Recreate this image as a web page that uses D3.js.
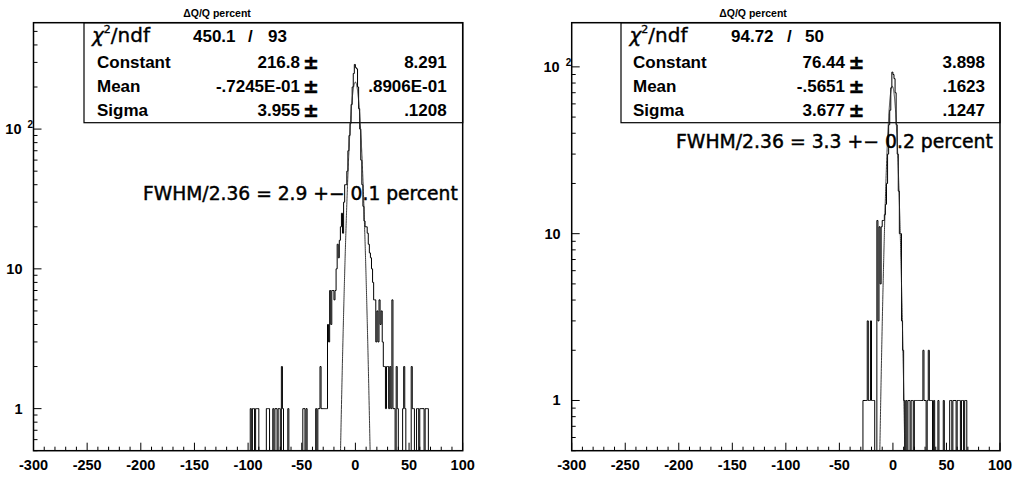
<!DOCTYPE html>
<html><head><meta charset="utf-8">
<script src="https://cdn.jsdelivr.net/npm/d3@7/dist/d3.min.js"></script>
<style>body{margin:0;background:#fff} svg{display:block}</style>
</head><body>
<svg id="c" width="1015" height="477"></svg>
<script>
// ---------- data ----------
const xTickValues = [-300,-250,-200,-150,-100,-50,0,50,100];
const yMajorValues = [1,10,100];
const yTickLabels = ["1","10","10"];
const titleText = "ΔQ/Q percent";
const statLabels = ["Constant","Mean","Sigma"];

// left histogram (bin lower edge, bin width 1) and counts
const leftBins = [-98,-96,-95,-93,-92,-91,-83,-82,-81,-77,-75,-74,-72,-71,-69,-68,-63,-49,-48,-46,-37,
  -35,-34,-33,-32,-31,-30,-29,-28,-27,-26,-25,-24,-23,-22,-21,-20,-19,-18,-17,-16,-15,-14,-13,-12,-11,-10,
  -9,-8,-7,-6,-5,-4,-3,-2,-1,0,1,2,3,4,5,6,7,8,9,10,11,12,13,14,15,16,17,18,19,20,21,22,23,24,25,26,27,28,
  29,30,31,32,33,34,35,36,38,39,44,45,46,52,53,54,57,58,60,61,62,63,65,66,67];
const leftCounts = [1,1,1,1,1,1,1,1,1,1,1,1,1,1,2,1,1,1,1,1,1,
  1,1,2,1,1,1,1,1,1,4,3,7,4,7,7,6,7,10,15,12,16,20,25,18,30,40,
  40,50,70,90,110,150,200,250,290,275,270,200,140,100,60,40,28,22,20,20,18,15,13,12,10,8,6,6,3,5,3,6,4,5,3,2,2,1,
  2,2,1,2,1,6,1,1,2,1,1,2,1,2,1,1,1,1,1,1,1,1,1,1,1];
const leftFit = [216.8, -0.07245, 3.955];
const leftFitText = ["216.8","-.7245E-01","3.955"];
const leftErrText = ["8.291",".8906E-01",".1208"];
const leftChi = ["450.1","93"];
const leftFwhm = "FWHM/2.36 = 2.9 +− 0.1 percent";

// right histogram
const rightBins = [-28,-27,-26,-25,-24,-23,-22,-21,-20,-19,-18,-15,-14,-13,-12,-11,-10,-9,-8,-7,-6,-5,-4,-3,-2,-1,
  0,1,2,3,4,5,6,7,8,9,10,12,14,15,17,18,20,21,22,23,24,25,26,27,28,29,30,32,33,34,35,36,38,42,47,53,54,56,57,58,60,61,62,64,65,67,68];
const rightCounts = [1,1,1,1,3,1,1,3,1,1,1,12,3,11,5,11,12,12,13,15,20,30,45,55,75,93,
  90,85,70,45,30,18,10,10,3,2,1,1,1,1,1,1,1,1,1,1,1,1,1,1,2,1,1,1,2,1,1,1,1,1,1,1,1,1,1,1,1,1,1,1,1,1,1];
const rightFit = [76.44, -0.5651, 3.677];
const rightFitText = ["76.44","-.5651","3.677"];
const rightErrText = ["3.898",".1623",".1247"];
const rightChi = ["94.72","50"];
const rightFwhm = "FWHM/2.36 = 3.3 +− 0.2 percent";

// ---------- layout ----------
const panels = [
  {bins:leftBins, counts:leftCounts, fit:leftFit, fitText:leftFitText, errText:leftErrText, chi:leftChi, fwhm:leftFwhm,
   x0:33.5, x1:462.7, y0:22.7, y1:450.7, ymax:577,
   box:{x:84, y1:122.7, label:97, val:300, pm:303, err:446.7, chiX:92, chiV:[193,248,268]},
   fw:{x:143, y:200, w:315}, titleX:217},
  {bins:rightBins, counts:rightCounts, fit:rightFit, fitText:rightFitText, errText:rightErrText, chi:rightChi, fwhm:rightFwhm,
   x0:571.7, x1:1000, y0:22.7, y1:450.7, ymax:184,
   box:{x:621, y1:122.7, label:633, val:845, pm:848.5, err:985, chiX:629.5, chiV:[731,787,805]},
   fw:{x:676, y:148, w:317}, titleX:753}
];

const svg = d3.select("#c");
const FONT = "'Liberation Sans', Arial, Helvetica, sans-serif";
const HFONT = "'DejaVu Sans', Verdana, sans-serif";

panels.forEach((p, pi) => {
  const x = d3.scaleLinear().domain([-300,100]).range([p.x0,p.x1]);
  const y = d3.scaleLog().domain([0.5,p.ymax]).range([p.y1,p.y0]);
  const g = svg.append("g");
  const clipId = "clip"+pi;
  svg.append("defs").append("clipPath").attr("id",clipId)
    .append("rect").attr("x",p.x0).attr("y",p.y0).attr("width",p.x1-p.x0).attr("height",p.y1-p.y0);

  // stats box (drawn under the histogram, as in the original)
  const b = p.box;
  g.append("rect").attr("x",b.x).attr("y",p.y0).attr("width",p.x1-b.x).attr("height",b.y1-p.y0)
    .attr("fill","none").attr("stroke","#000").attr("stroke-width",1.2);
  const rowsY = [42,68,92,116];
  const chiT = g.append("text").attr("x",b.chiX).attr("y",rowsY[0]).attr("font-family",HFONT).attr("font-size",20)
    .attr("stroke","#000").attr("stroke-width",0.35);
  chiT.append("tspan").attr("font-style","italic").text("χ");
  chiT.append("tspan").attr("font-size",11).attr("dy",-9).text("2");
  chiT.append("tspan").attr("dy",9).text("/ndf");
  const sb = (xx,yy,txt,anchor,fs)=> g.append("text").attr("x",xx).attr("y",yy).attr("text-anchor",anchor||"start")
    .attr("font-family",FONT).attr("font-weight","bold").attr("font-size",fs||17).text(txt);
  sb(b.chiV[0],rowsY[0],p.chi[0]);
  sb(b.chiV[1],rowsY[0],"/");
  sb(b.chiV[2],rowsY[0],p.chi[1]);
  statLabels.forEach((lab,i)=>{
    const yy = rowsY[i+1];
    sb(b.label,yy,lab);
    sb(b.val,yy,p.fitText[i],"end");
    sb(b.pm,yy+1,"±","start",19).attr("font-family",HFONT).attr("font-weight","bold")
      .attr("stroke","#000").attr("stroke-width",0.5);
    sb(b.err,yy,p.errText[i],"end");
  });

  // histogram outline
  const cnt = new Map(p.bins.map((bb,i)=>[bb,p.counts[i]]));
  const yb = p.y1;
  let d = `M${x(-300)},${yb}`;
  for (let bb=-300;bb<100;bb++){
    const c = cnt.get(bb)||0;
    const yy = c>0 ? y(c) : yb;
    d += `L${x(bb)},${yy}L${x(bb+1)},${yy}`;
  }
  d += `L${x(100)},${yb}`;
  g.append("path").attr("d",d).attr("fill","none").attr("stroke","#000").attr("stroke-width",1)
    .attr("clip-path",`url(#${clipId})`);

  // fit curve from fitted parameters
  const [A,mu,sg] = p.fit;
  const pts = d3.range(mu-8*sg, mu+8*sg, 0.05).map(v => {
    const f = A*Math.exp(-0.5*((v-mu)/sg)**2);
    return [x(v), y(Math.max(f,0.05))];
  });
  g.append("path").attr("d",d3.line()(pts)).attr("fill","none").attr("stroke","#222").attr("stroke-width",0.9)
    .attr("clip-path",`url(#${clipId})`);

  // frame
  g.append("rect").attr("x",p.x0).attr("y",p.y0).attr("width",p.x1-p.x0).attr("height",p.y1-p.y0)
    .attr("fill","none").attr("stroke","#000").attr("stroke-width",1.5);

  // x ticks
  for (let v=-300; v<=100; v+=10){
    const major = v%50===0;
    g.append("line").attr("x1",x(v)).attr("x2",x(v)).attr("y1",p.y1).attr("y2",p.y1-(major?8:4))
      .attr("stroke","#000").attr("stroke-width",1);
  }
  xTickValues.forEach(v=>{
    g.append("text").attr("x",x(v)).attr("y",470).attr("text-anchor","middle")
      .attr("font-family",FONT).attr("font-weight","bold").attr("font-size",14.5).text(v);
  });

  // y ticks
  for (let dec=0.1; dec<=1000; dec*=10){
    for (let k=1;k<=9;k++){
      const v = k*dec;
      if (v<0.5-1e-9 || v>p.ymax) continue;
      const major = k===1;
      g.append("line").attr("x1",p.x0).attr("x2",p.x0+(major?8:4)).attr("y1",y(v)).attr("y2",y(v))
        .attr("stroke","#000").attr("stroke-width",1);
    }
  }
  yMajorValues.forEach((v,i)=>{
    g.append("text").attr("y",y(v)+5).attr("text-anchor","end")
      .attr("font-family",FONT).attr("font-weight","bold").attr("font-size",14.5)
      .attr("x", v===100 ? p.x0-12 : p.x0-11).text(yTickLabels[i]);
    if (v===100){
      g.append("text").attr("x",p.x0-6).attr("y",y(v)-1).attr("font-family",FONT)
        .attr("font-weight","bold").attr("font-size",10).text("2");
    }
  });

  // title
  g.append("text").attr("x",p.titleX).attr("y",17).attr("text-anchor","middle")
    .attr("font-family",FONT).attr("font-weight","bold").attr("font-size",10.5).text(titleText);

  // FWHM annotation
  const ft = g.append("text").attr("x",p.fw.x).attr("y",p.fw.y).attr("font-family",HFONT).attr("font-size",18)
    .attr("stroke","#000").attr("stroke-width",0.45).text(p.fwhm);
  const w = ft.node().getComputedTextLength();
  ft.attr("font-size", 18*p.fw.w/w);
});
</script>
</body></html>
